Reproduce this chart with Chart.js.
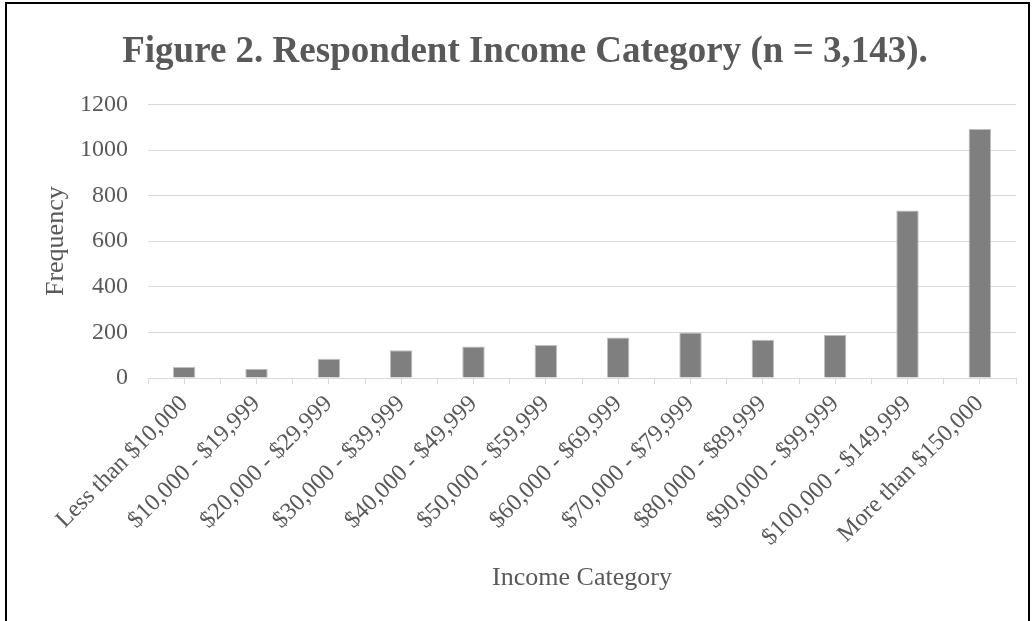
<!DOCTYPE html>
<html>
<head>
<meta charset="utf-8">
<script src="https://cdn.jsdelivr.net/npm/chart.js@4/dist/chart.umd.min.js"></script>
<style>
  html, body { margin: 0; padding: 0; background: #fff; }
  #wrap { position: relative; width: 1036px; height: 621px; overflow: hidden; }
  #c { position: absolute; left: 0; top: 0; }
  #frame { position: absolute; left: 5px; top: 2px; width: 1025px; height: 700px; border: 2px solid #000; box-sizing: border-box; pointer-events: none; }
</style>
</head>
<body>
<div id="wrap">
  <canvas id="c" width="1036" height="621"></canvas>
  <div id="frame"></div>
</div>
<script>
const titleText = 'Figure 2. Respondent Income Category (n = 3,143).';
const xAxisTitle = 'Income Category';
const yAxisTitle = 'Frequency';
const categories = [
  'Less than $10,000',
  '$10,000 - $19,999',
  '$20,000 - $29,999',
  '$30,000 - $39,999',
  '$40,000 - $49,999',
  '$50,000 - $59,999',
  '$60,000 - $69,999',
  '$70,000 - $79,999',
  '$80,000 - $89,999',
  '$90,000 - $99,999',
  '$100,000 - $149,999',
  'More than $150,000'
];
const frequency = [48, 41, 84, 122, 138, 145, 178, 200, 168, 189, 735, 1092];
const yMin = 0;
const yMax = 1200;
const yStep = 200;

const SERIF = '"Liberation Serif", "Times New Roman", serif';
const TEXT = '#595959';
const GRID = '#d9d9d9';

new Chart(document.getElementById('c'), {
  type: 'bar',
  data: {
    labels: categories,
    datasets: [{
      label: yAxisTitle,
      data: frequency,
      backgroundColor: '#7f7f7f',
      borderColor: '#bfbfbf',
      borderWidth: 1,
      categoryPercentage: 1.0,
      barPercentage: 0.31
    }]
  },
  options: {
    responsive: false,
    animation: false,
    layout: { padding: { left: 34, right: 20, top: 0, bottom: 0 } },
    plugins: {
      legend: { display: false },
      tooltip: { enabled: false },
      title: {
        display: true,
        text: titleText,
        color: TEXT,
        font: { family: SERIF, size: 37, weight: 'bold', lineHeight: 1.2 },
        padding: { top: 30, bottom: 30 }
      }
    },
    scales: {
      x: {
        type: 'category',
        offset: true,
        weight: 1,
        grid: { offset: true, drawOnChartArea: false, drawTicks: true, tickLength: 6, color: GRID, lineWidth: 1 },
        border: { display: true, color: GRID, width: 1 },
        ticks: {
          color: TEXT,
          font: { family: SERIF, size: 24 },
          minRotation: 45,
          maxRotation: 45,
          autoSkip: false,
          padding: 6
        },
        title: {
          display: true,
          text: xAxisTitle,
          color: TEXT,
          font: { family: SERIF, size: 26 },
          padding: { top: 0, bottom: 27 }
        },
        afterFit: (s) => { s.height = 243; }
      },
      x2: {
        type: 'category',
        position: 'bottom',
        labels: categories,
        offset: true,
        weight: -1,
        grid: { offset: false, drawOnChartArea: false, drawTicks: true, tickLength: 6, color: GRID, lineWidth: 1 },
        border: { display: false },
        ticks: { display: false },
        afterFit: (s) => { s.height = 0; }
      },
      y: {
        min: yMin,
        max: yMax,
        grid: { color: GRID, lineWidth: 1, drawTicks: false },
        border: { display: false },
        ticks: {
          stepSize: yStep,
          color: TEXT,
          font: { family: SERIF, size: 24 },
          padding: 20,
          callback: (v) => String(v)
        },
        title: {
          display: true,
          text: yAxisTitle,
          color: TEXT,
          font: { family: SERIF, size: 26 },
          padding: { top: 7, bottom: 0 }
        },
        afterFit: (s) => { s.width = 114; }
      }
    }
  }
});
</script>
</body>
</html>
